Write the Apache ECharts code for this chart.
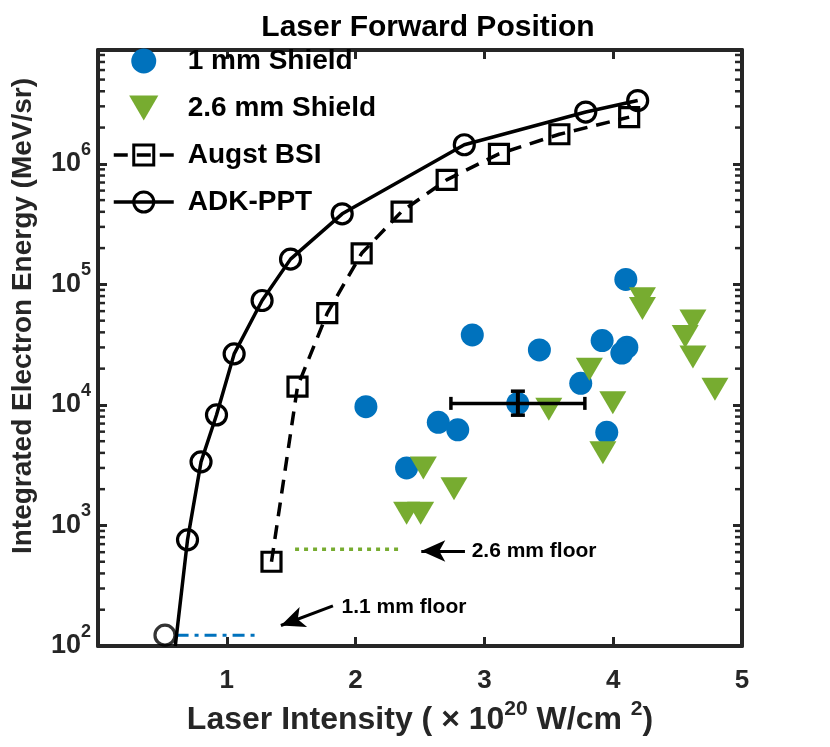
<!DOCTYPE html>
<html>
<head>
<meta charset="utf-8">
<script src="https://cdn.jsdelivr.net/npm/echarts@6/dist/echarts.min.js"></script>
<style>html,body{margin:0;padding:0;background:#fff;}#chart{width:830px;height:747px;}</style>
</head>
<body>
<div id="chart"></div>
<script>
// ---- data ----
const shield1X = [2.08, 2.906, 3.427, 4.098, 3.914, 4.106, 4.067, 3.748, 3.259, 2.642, 2.793, 3.95, 2.396];
const shield1Y = [9680, 38100, 28600, 110000, 34200, 30100, 26900, 15100, 10300, 7180, 6210, 5930, 3000];

const shield26X = [3.815, 3.5, 3.997, 3.92, 2.526, 2.764, 2.396, 2.505, 4.227, 4.227, 4.619, 4.559, 4.619, 4.79];
const shield26Y = [19800, 9210, 10400, 4020, 2990, 2020, 1260, 1260, 76000, 63000, 49800, 36900, 25000, 13500];

const augstX = [1.347, 1.549, 1.78, 2.047, 2.357, 2.707, 3.113, 3.582, 4.124];
const augstY = [500, 14200, 57700, 181000, 402000, 736000, 1.21e6, 1.76e6, 2.44e6];

const adkX = [0.60, 0.695, 0.80, 0.92, 1.057, 1.274, 1.495, 1.896, 2.844, 3.787, 4.19];
const adkY = [100, 760, 3370, 8260, 26500, 73500, 162000, 385000, 1.44e6, 2.69e6, 3.35e6];
const adkFloorPoint = [0.52, 123];

// error bar: [x, y, xLow, xHigh, yLow, yHigh]
const errorBar = [3.26, 10300, 2.74, 3.78, 8220, 13000];

const floor11X = [0.61, 1.26];
const floor11Y = [123, 123];
const floor26X = [1.53, 2.345];
const floor26Y = [635, 635];

const annotTexts = ['1.1 mm floor', '2.6 mm floor'];
const annotX = [1.891, 2.901];
const annotY = [210, 607];
const arrowFrom = [[1.824, 215], [2.849, 614]];
const arrowTo = [[1.42, 148], [2.51, 614]];

const xTicks = [1, 2, 3, 4, 5];
const yMin = 100, yMax = 8.8e6;
const minorMantissas = [2, 3, 4, 5, 6, 7, 8, 9];
const decades = [2, 3, 4, 5, 6];

// ---- chart ----
const F = '"Liberation Sans", Arial, Helvetica, sans-serif';
const AX = '#262626';
const BLUE = '#0072BD', GREEN = '#77AC30';

const zip = (xs, ys) => xs.map((x, i) => [x, ys[i]]);
const minorVals = [];
decades.forEach(d => minorMantissas.forEach(m => { const v = m * Math.pow(10, d); if (v < yMax) minorVals.push([0, v]); }));

function isPow10(v) { const l = Math.log10(v); return Math.abs(l - Math.round(l)) < 1e-6; }

const axisLineStyle = { color: AX, width: 4 };
const tickStyle = { inside: true, length: 9, lineStyle: { color: AX, width: 3 } };

const adkData = zip(adkX, adkY).map((p, i) => i === 0 ? { value: p, symbol: 'none' } : p);

const option = {
  animation: false,
  backgroundColor: '#fff',
  title: {
    text: 'Laser Forward Position', left: 423, top: 8, textAlign: 'center',
    textStyle: { fontFamily: F, fontSize: 30, fontWeight: 'bold', color: '#000' }
  },
  grid: { left: 98, right: 88, top: 50, bottom: 101 },
  xAxis: [{
    type: 'value', min: 0, max: 5, interval: 1, position: 'bottom',
    axisLine: { show: true, onZero: false, lineStyle: axisLineStyle },
    axisTick: tickStyle, splitLine: { show: false },
    axisLabel: {
      margin: 22, fontFamily: F, fontSize: 26, fontWeight: 'bold', color: AX,
      formatter: v => (xTicks.indexOf(v) >= 0 ? String(v) : '')
    },
    name: 'Laser Intensity ( \u00d7 10{s|20} W/cm {s|2})',
    nameLocation: 'middle', nameGap: 53,
    nameTextStyle: {
      fontFamily: F, fontSize: 32, fontWeight: 'bold', color: AX, lineHeight: 36,
      rich: { s: { fontFamily: F, fontSize: 21, fontWeight: 'bold', color: AX, padding: [0, 0, 22, 0] } }
    }
  }, {
    type: 'value', min: 0, max: 5, interval: 1, position: 'top',
    axisLine: { show: true, onZero: false, lineStyle: axisLineStyle },
    axisTick: tickStyle, axisLabel: { show: false }, splitLine: { show: false }
  }],
  yAxis: [{
    type: 'log', logBase: 10, min: yMin, max: yMax, position: 'left',
    axisLine: { show: true, onZero: false, lineStyle: axisLineStyle },
    axisTick: tickStyle, splitLine: { show: false },
    axisLabel: {
      margin: 7, fontFamily: F, fontSize: 27, fontWeight: 'bold', color: AX,
      formatter: v => isPow10(v) ? '10{s|' + Math.round(Math.log10(v)) + '}' : '',
      rich: { s: { fontFamily: F, fontSize: 18, fontWeight: 'bold', color: AX, padding: [0, 0, 28, 0] } }
    },
    name: 'Integrated Electron Energy (MeV/sr)',
    nameLocation: 'middle', nameGap: 61,
    nameTextStyle: { fontFamily: F, fontSize: 28, fontWeight: 'bold', color: AX, padding: [0, 0, 0, 64] }
  }, {
    type: 'log', logBase: 10, min: yMin, max: yMax, position: 'right',
    axisLine: { show: true, onZero: false, lineStyle: axisLineStyle },
    axisTick: tickStyle, axisLabel: { show: false }, splitLine: { show: false }
  }],
  legend: {
    orient: 'vertical', left: 112, top: 46, padding: 0, itemGap: 17,
    itemWidth: 60, itemHeight: 25,
    textStyle: { fontFamily: F, fontSize: 28, fontWeight: 'bold', color: '#000', lineHeight: 30, padding: [0, 0, 0, 9] },
    data: [
      { name: '1 mm Shield' },
      { name: '2.6 mm Shield', icon: 'path://M0,0L28,0L14,24Z' },
      { name: 'Augst BSI', itemStyle: { borderWidth: 3, borderColor: '#000', color: 'rgba(0,0,0,0)' }, lineStyle: { width: 3.5, color: '#000' } },
      { name: 'ADK-PPT', itemStyle: { borderWidth: 3, borderColor: '#000', color: 'rgba(0,0,0,0)' }, lineStyle: { width: 3.5, color: '#000' } }
    ]
  },
  series: [
    {
      name: '1 mm Shield', type: 'scatter', data: zip(shield1X, shield1Y),
      symbol: 'circle', symbolSize: 23, itemStyle: { color: BLUE, opacity: 1 }, z: 3
    },
    {
      name: '2.6 mm Shield', type: 'scatter', data: zip(shield26X, shield26Y),
      symbol: 'triangle', symbolRotate: 180, symbolSize: [27, 23], itemStyle: { color: GREEN, opacity: 1 }, z: 4
    },
    {
      name: 'Augst BSI', type: 'line', data: zip(augstX, augstY),
      symbol: 'rect', symbolSize: 19, showAllSymbol: true,
      lineStyle: { color: '#000', width: 3.5, type: [14, 9] },
      itemStyle: { color: 'rgba(0,0,0,0)', borderColor: '#000', borderWidth: 3.2 }, z: 5
    },
    {
      name: 'ADK-PPT', type: 'line', data: adkData,
      symbol: 'circle', symbolSize: 20, showAllSymbol: true,
      lineStyle: { color: '#000', width: 3.5 },
      itemStyle: { color: 'rgba(0,0,0,0)', borderColor: '#000', borderWidth: 3.2 }, z: 5
    },
    {
      name: 'ADK-PPT floor point', type: 'scatter', data: [adkFloorPoint],
      symbol: 'circle', symbolSize: 20,
      itemStyle: { color: 'rgba(0,0,0,0)', borderColor: '#000', borderWidth: 3.2 }, z: 5
    },
    {
      name: '1.1 mm floor', type: 'line', data: zip(floor11X, floor11Y), symbol: 'none',
      lineStyle: { color: BLUE, width: 3, type: [12, 6, 4, 6] }, z: 4
    },
    {
      name: '2.6 mm floor', type: 'line', data: zip(floor26X, floor26Y), symbol: 'none',
      lineStyle: { color: GREEN, width: 3.5, type: [4, 5] }, z: 4
    },
    {
      name: 'annotations', type: 'scatter', data: zip(annotX, annotY),
      symbolSize: 0, itemStyle: { color: '#000', opacity: 1 }, z: 6,
      label: {
        show: true, position: 'right', distance: 0,
        fontFamily: F, fontSize: 21, fontWeight: 'bold', color: '#000', opacity: 1,
        formatter: p => annotTexts[p.dataIndex]
      },
      markLine: {
        silent: true, symbol: ['none', 'arrow'], symbolSize: [16, 24], precision: 6,
        label: { show: false },
        lineStyle: { color: '#000', width: 3, type: 'solid', opacity: 1 },
        data: arrowFrom.map((a, i) => [{ coord: a }, { coord: arrowTo[i] }])
      }
    },
    {
      name: 'error bar', type: 'custom', data: [errorBar], z: 7,
      encode: { x: [0, 2, 3], y: [1, 4, 5] },
      renderItem: function (params, api) {
        const x = api.value(0), y = api.value(1);
        const c = api.coord([x, y]);
        const xl = api.coord([api.value(2), y])[0];
        const xr = api.coord([api.value(3), y])[0];
        const yb = api.coord([x, api.value(4)])[1];
        const yt = api.coord([x, api.value(5)])[1];
        const st = { stroke: '#000', lineWidth: 3.5 };
        const ln = (x1, y1, x2, y2, w) => ({ type: 'line', shape: { x1, y1, x2, y2 }, style: Object.assign({}, st, w ? { lineWidth: w } : {}) });
        return {
          type: 'group', children: [
            ln(xl, c[1], xr, c[1]),
            ln(xl, c[1] - 6.5, xl, c[1] + 6.5),
            ln(xr, c[1] - 6.5, xr, c[1] + 6.5),
            ln(c[0], yb, c[0], yt, 4),
            ln(c[0] - 7, yb, c[0] + 7, yb, 3.5),
            ln(c[0] - 7, yt, c[0] + 7, yt, 3.5)
          ]
        };
      }
    },
    {
      name: 'minor ticks', type: 'custom', data: minorVals, z: 8, silent: true,
      encode: { x: 0, y: 1 },
      renderItem: function (params, api) {
        const v = api.value(1);
        const pl = api.coord([0, v]);
        const pr = api.coord([5, v]);
        const st = { stroke: AX, lineWidth: 2.5 };
        return {
          type: 'group', children: [
            { type: 'line', shape: { x1: pl[0], y1: pl[1], x2: pl[0] + 7, y2: pl[1] }, style: st },
            { type: 'line', shape: { x1: pr[0], y1: pr[1], x2: pr[0] - 7, y2: pr[1] }, style: st }
          ]
        };
      }
    }
  ]
};

const chart = echarts.init(document.getElementById('chart'), null, { renderer: 'canvas' });
chart.setOption(option);
</script>
</body>
</html>
